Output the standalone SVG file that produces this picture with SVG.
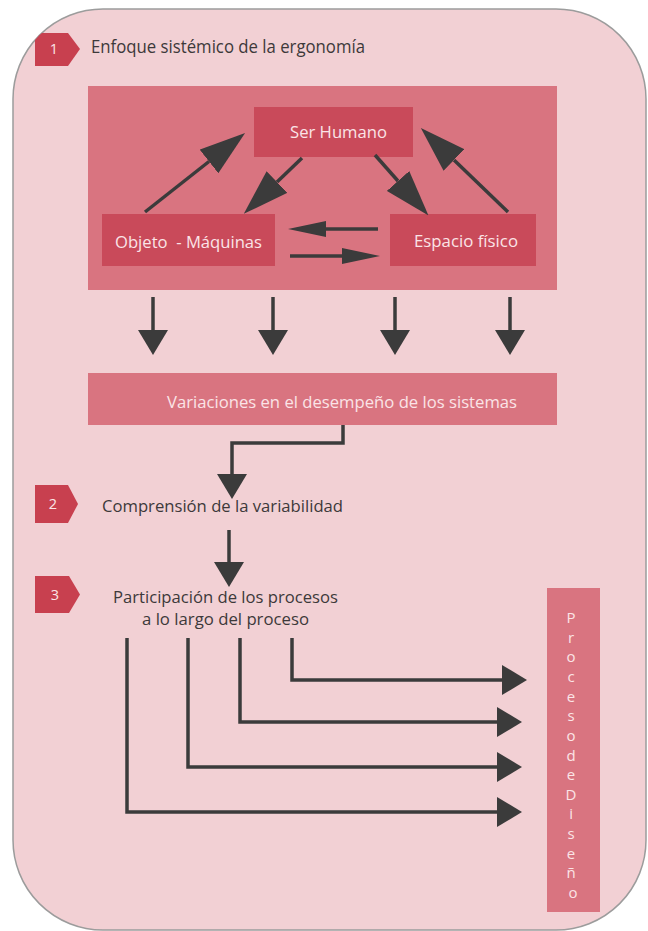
<svg xmlns="http://www.w3.org/2000/svg" width="648" height="931" viewBox="0 0 648 931">
  <style>
    .frame { fill: #f2d0d4; stroke: #9c9c9c; stroke-width: 1.5; }
    .panel { fill: #d97480; }
    .node { fill: #c94a5a; }
    .badge { fill: #c8404f; }
    .dark { font-family: "Open Sans", "Liberation Sans", sans-serif; fill: #3d393a; }
    .light { font-family: "Open Sans", "Liberation Sans", sans-serif; fill: #fbe4e7; }
    .num { font-family: "Open Sans", "Liberation Sans", sans-serif; fill: #fbe4e7; font-size: 14.5px; text-anchor: middle; }
    .link { fill: none; stroke: #3b3b3b; stroke-width: 3.5; }
  </style>
  <defs>
    <marker id="headBig" markerUnits="userSpaceOnUse" viewBox="0 0 46 30" markerWidth="46" markerHeight="30" refX="0" refY="15" orient="auto">
      <path d="M0,0 L46,15 L0,30 Z" fill="#3b3b3b"/>
    </marker>
    <marker id="headSlim" markerUnits="userSpaceOnUse" viewBox="0 0 38 16" markerWidth="38" markerHeight="16" refX="0" refY="8" orient="auto">
      <path d="M0,0 L38,8 L0,16 Z" fill="#3b3b3b"/>
    </marker>
    <marker id="head" markerUnits="userSpaceOnUse" viewBox="0 0 25 30" markerWidth="25" markerHeight="30" refX="0" refY="15" orient="auto">
      <path d="M0,0 L25,15 L0,30 Z" fill="#3b3b3b"/>
    </marker>
    <clipPath id="frameClip">
      <rect x="13" y="9" width="633" height="921" rx="90" ry="90"/>
    </clipPath>
  </defs>

  <!-- background card -->
  <rect class="frame" x="13" y="9" width="633" height="921" rx="90" ry="90"/>

  <!-- step 1 -->
  <g id="step1">
    <polygon class="badge" clip-path="url(#frameClip)" points="35,33 68,33 80,49 68,66 35,66"/>
    <text class="num" x="54" y="54">1</text>
    <text class="dark" x="91" y="53" font-size="17.5" textLength="274" lengthAdjust="spacingAndGlyphs">Enfoque sistémico de la ergonomía</text>
  </g>

  <g id="system-panel">
    <rect class="panel" x="88" y="86" width="469" height="204"/>
  </g>

  <g id="ser-humano">
    <rect class="node" x="254" y="107" width="159" height="50"/>
    <text class="light" x="290" y="138" font-size="16.5" textLength="97" lengthAdjust="spacingAndGlyphs">Ser Humano</text>
  </g>

  <g id="objeto-maquinas">
    <rect class="node" x="102" y="214" width="173" height="52"/>
    <text class="light" x="115" y="248" font-size="16.5" textLength="147" lengthAdjust="spacingAndGlyphs" xml:space="preserve">Objeto  - Máquinas</text>
  </g>

  <g id="espacio-fisico">
    <rect class="node" x="390" y="214" width="146" height="52"/>
    <text class="light" x="414" y="247" font-size="16.5" textLength="104" lengthAdjust="spacingAndGlyphs">Espacio físico</text>
  </g>

  <g id="variaciones">
    <rect class="panel" x="88" y="373" width="469" height="52"/>
    <text class="light" x="167" y="408" font-size="16.5" textLength="350" lengthAdjust="spacingAndGlyphs">Variaciones en el desempeño de los sistemas</text>
  </g>

  <!-- step 2 -->
  <g id="step2">
    <polygon class="badge" points="35,485 68,485 78,504 68,523 35,523"/>
    <text class="num" x="53" y="509">2</text>
    <text class="dark" x="102" y="512" font-size="17" textLength="241" lengthAdjust="spacingAndGlyphs">Comprensión de la variabilidad</text>
  </g>

  <!-- step 3 -->
  <g id="step3">
    <polygon class="badge" points="35,576 69,576 80,594.5 69,613 35,613"/>
    <text class="num" x="55" y="600">3</text>
    <text class="dark" x="113" y="603" font-size="17" textLength="225" lengthAdjust="spacingAndGlyphs">Participación de los procesos</text>
    <text class="dark" x="142" y="625" font-size="17" textLength="167" lengthAdjust="spacingAndGlyphs">a lo largo del proceso</text>
  </g>

  <g id="proceso-diseno">
    <rect class="panel" x="547" y="588" width="53" height="324"/>
    <text class="light" font-size="15" text-anchor="middle">
      <tspan x="573" y="623">P</tspan>
      <tspan x="573" y="642.6">r</tspan>
      <tspan x="573" y="662.3">o</tspan>
      <tspan x="573" y="681.9">c</tspan>
      <tspan x="573" y="701.6">e</tspan>
      <tspan x="573" y="721.2">s</tspan>
      <tspan x="573" y="740.8">o</tspan>
      <tspan x="573" y="760.5">d</tspan>
      <tspan x="573" y="780.1">e</tspan>
      <tspan x="573" y="799.8">D</tspan>
      <tspan x="573" y="819.4">i</tspan>
      <tspan x="573" y="839">s</tspan>
      <tspan x="573" y="858.7">e</tspan>
      <tspan x="573" y="878.3">ñ</tspan>
      <tspan x="573" y="898">o</tspan>
    </text>
  </g>

  <g id="connectors">
    <!-- triangle of relations -->
    <line class="link" x1="145" y1="212" x2="209" y2="161.5" marker-end="url(#headBig)"/>
    <line class="link" x1="302" y1="158" x2="277" y2="182" marker-end="url(#headBig)"/>
    <line class="link" x1="375" y1="155" x2="398" y2="181" marker-end="url(#headBig)"/>
    <line class="link" x1="508" y1="212" x2="454" y2="160" marker-end="url(#headBig)"/>
    <line class="link" x1="378" y1="229" x2="326" y2="229" marker-end="url(#headSlim)"/>
    <line class="link" x1="290" y1="256" x2="342" y2="256" marker-end="url(#headSlim)"/>

    <!-- panel to variations -->
    <line class="link" x1="153" y1="297" x2="153" y2="330" marker-end="url(#head)"/>
    <line class="link" x1="273" y1="297" x2="273" y2="330" marker-end="url(#head)"/>
    <line class="link" x1="395" y1="297" x2="395" y2="330" marker-end="url(#head)"/>
    <line class="link" x1="510" y1="297" x2="510" y2="330" marker-end="url(#head)"/>

    <!-- variations to step 2, step 2 to step 3 -->
    <path class="link" d="M343,425 V443 H232 V474" marker-end="url(#head)"/>
    <line class="link" x1="229" y1="530" x2="229" y2="562" marker-end="url(#head)"/>

    <!-- step 3 into the design process -->
    <path class="link" d="M292,638 V680 H502" marker-end="url(#head)"/>
    <path class="link" d="M240,638 V722 H497" marker-end="url(#head)"/>
    <path class="link" d="M188,638 V767 H497" marker-end="url(#head)"/>
    <path class="link" d="M127,638 V812 H497" marker-end="url(#head)"/>
  </g>
</svg>
